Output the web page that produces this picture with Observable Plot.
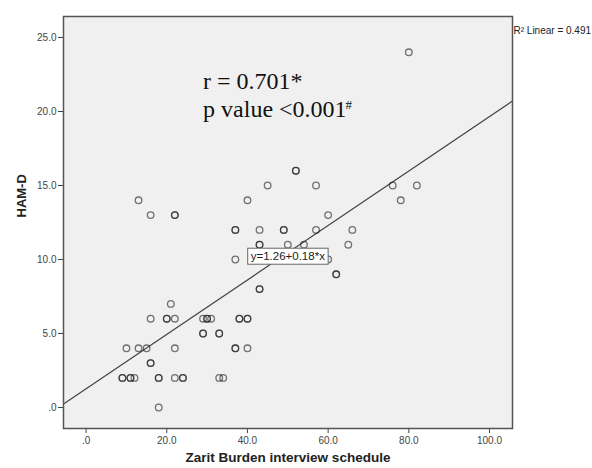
<!DOCTYPE html>
<html><head><meta charset="utf-8">
<script src="https://cdn.jsdelivr.net/npm/d3@7"></script>
<script src="https://cdn.jsdelivr.net/npm/@observablehq/plot@0.6"></script>
<style>
html,body{margin:0;padding:0;background:#fff;}
#chart{width:592px;height:468px;}
</style></head><body><div id="chart"></div>
<script>
// Zarit Burden interview schedule score (x) and HAM-D score (y); repeated pairs = overlapping cases
const zarit = [80,
  13,16,22,22,37,37,43,49,49,57,66,40,45,57,52,52,60,65,43,43,50,54,37,60,62,62,76,82,78,
  43,43,21,16,20,20,22,29,30,30,31,38,38,40,40,29,29,33,33,
  10,13,15,22,37,37,40,16,16,9,9,11,11,12,18,18,22,24,24,33,34,18];
const hamd = [24,
  14,13,13,13,12,12,12,12,12,12,12,14,15,15,16,16,13,11,11,11,11,11,10,10,9,9,15,15,14,
  8,8,7,6,6,6,6,6,6,6,6,6,6,6,6,5,5,5,5,
  4,4,4,4,4,4,4,3,3,2,2,2,2,2,2,2,2,2,2,2,2,0];

const xTicks = [0, 20, 40, 60, 80, 100];
const yTicks = [0, 5, 10, 15, 20, 25];
const xDomain = [-5.6, 105.7];
const yDomain = [-1.42, 26.42];

// Fit line (printed as y=1.26+0.18*x; slope read slightly more precisely from the drawn line)
const fitIntercept = 1.26;
const fitSlope = 0.184;
const fitLabel = "y=1.26+0.18*x";
const fitLabelX = [50];
const fitLabelY = [10.2];

const statLines = ["r = 0.701*", "p value <0.001"];
const statX = [29, 29];
const statY = [21.49, 19.66];
const statSup = ["#"];
const statSupX = [64.3];
const statSupY = [20.2];

const r2Label = ["R\u00b2 Linear = 0.491"];
const xTitle = ["Zarit Burden interview schedule"];
const yTitle = ["HAM-D"];

const points = zarit.map((x, i) => ({x, y: hamd[i]}));
const fmt = d => d === 0 ? ".0" : d.toFixed(1);
const sans = "'Liberation Sans', Arial, sans-serif";
const serif = "'Liberation Serif', 'Times New Roman', serif";

const plot = Plot.plot({
  width: 592, height: 468,
  marginLeft: 63, marginRight: 80, marginTop: 16, marginBottom: 40,
  style: {fontFamily: sans, background: "#fff", color: "#333", fontSize: "10px"},
  x: {domain: xDomain, label: null},
  y: {domain: yDomain, label: null},
  marks: [
    Plot.frame({fill: "#f0f0f0"}),
    Plot.axisX({ticks: xTicks, tickFormat: fmt, tickSize: 5, tickPadding: 3, fontSize: 10, color: "#444", label: null}),
    Plot.axisY({ticks: yTicks, tickFormat: fmt, tickSize: 5, tickPadding: 2, fontSize: 10, color: "#444", label: null}),
    Plot.line(xDomain, {x: d => d, y: d => fitIntercept + fitSlope * d, stroke: "#444", strokeWidth: 1.2}),
    Plot.dot(points, {x: "x", y: "y", r: 3.3, stroke: "#1a1a1a", strokeOpacity: 0.6, strokeWidth: 1.3, fill: "none"}),
    Plot.frame({stroke: "#555", strokeWidth: 1.5}),
    Plot.text(statLines, {x: statX, y: statY, text: d => d, textAnchor: "start", lineAnchor: "bottom", fontFamily: serif, fontSize: 24, fill: "#111"}),
    Plot.text(statSup, {x: statSupX, y: statSupY, text: d => d, textAnchor: "start", lineAnchor: "bottom", fontFamily: serif, fontSize: 13, fill: "#111"}),
    Plot.text([fitLabel], {x: fitLabelX, y: fitLabelY, text: d => d, fontSize: 11.5, fill: "#222"}),
    Plot.text(r2Label, {frameAnchor: "top-right", text: d => d, textAnchor: "start", dx: 1, dy: 10, fontSize: 10, fill: "#222"}),
    Plot.text(xTitle, {frameAnchor: "bottom", text: d => d, dy: 33, fontWeight: "bold", fontSize: 13.5, fill: "#222"}),
    Plot.text(yTitle, {frameAnchor: "left", text: d => d, dx: -42, dy: -5, rotate: -90, fontWeight: "bold", fontSize: 13, fill: "#222"})
  ]
});
document.getElementById("chart").appendChild(plot);

// white box behind the fit-line equation label
d3.select(plot).selectAll("text").each(function() {
  if (this.textContent === fitLabel) {
    const bb = this.getBBox();
    const padX = 3, padY = 3;
    d3.select(this.parentNode).insert("rect", () => this)
      .attr("transform", this.getAttribute("transform"))
      .attr("x", bb.x - padX).attr("y", bb.y - padY + 1)
      .attr("width", bb.width + 2 * padX).attr("height", bb.height + 2 * padY - 2)
      .attr("fill", "#fff").attr("stroke", "#666").attr("stroke-width", 1);
  }
});
</script>
</body></html>
